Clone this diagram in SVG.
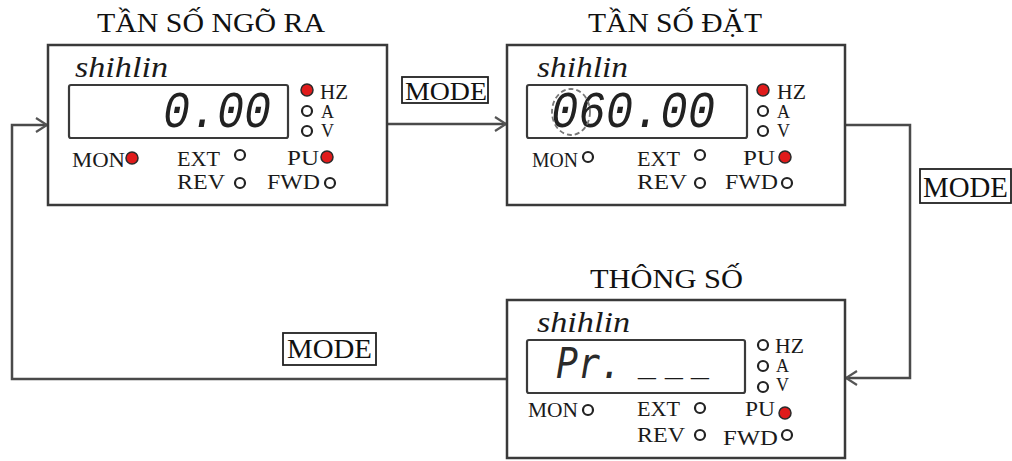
<svg xmlns="http://www.w3.org/2000/svg" width="1012" height="461" viewBox="0 0 1012 461">
<defs>
<style>
.panel{fill:#fff;stroke:#3a3a3a;stroke-width:2.5}
.disp{fill:#fff;stroke:#3a3a3a;stroke-width:2.2}
.title{font-family:"Liberation Serif",serif;font-size:27px;fill:#111}
.brand{font-family:"Liberation Serif",serif;font-style:italic;font-size:29px;fill:#1a1a1a}
.lbl{font-family:"Liberation Serif",serif;font-size:20px;fill:#1a1a1a}
.sm{font-family:"Liberation Serif",serif;font-size:18px;fill:#1a1a1a}
.seg{font-family:"Liberation Mono",monospace;font-style:italic;fill:#222}
.segp{font-family:"DejaVu Sans Mono",monospace;font-style:italic;fill:#2a2a2a}
.dash{font-family:"Liberation Sans",sans-serif;font-weight:bold;font-style:normal;font-size:32px;fill:#1a1a1a}
.on{fill:#e01b1b;stroke:#2a2a2a;stroke-width:1.5}
.off{fill:#fff;stroke:#222;stroke-width:2.2}
.wire{fill:none;stroke:#4a4a4a;stroke-width:2.5}
.mbox{fill:#fff;stroke:#222;stroke-width:1.8}
.mode{font-family:"Liberation Serif",serif;fill:#111}
</style>
<marker id="arr" markerUnits="userSpaceOnUse" markerWidth="14" markerHeight="18" refX="12" refY="8" orient="auto">
<path d="M1,1 L12,8 L1,15" fill="none" stroke="#555" stroke-width="2.2"/>
</marker>
</defs>
<rect width="1012" height="461" fill="#fff"/>

<g id="connectors">
<line class="wire" x1="387" y1="124" x2="506" y2="124" marker-end="url(#arr)"/>
<polyline class="wire" points="845,125 910,125 910,378 846,378" marker-end="url(#arr)"/>
<polyline class="wire" points="507,379 12,379 12,125 47,125" marker-end="url(#arr)"/>
<g id="mode1"><rect class="mbox" x="402" y="77" width="86" height="26"/><text class="mode" x="405" y="100" font-size="26" textLength="82" lengthAdjust="spacingAndGlyphs">MODE</text></g>
<g id="mode2"><rect class="mbox" x="920" y="169" width="91" height="34"/><text class="mode" x="923" y="197" font-size="29" textLength="85" lengthAdjust="spacingAndGlyphs">MODE</text></g>
<g id="mode3"><rect class="mbox" x="283" y="333" width="93" height="32"/><text class="mode" x="287" y="358" font-size="28" textLength="85" lengthAdjust="spacingAndGlyphs">MODE</text></g>
</g>

<g id="panel-output">
<text class="title" x="97" y="32" textLength="228" lengthAdjust="spacingAndGlyphs">TẦN SỐ NGÕ RA</text>
<rect class="panel" x="48" y="45" width="339" height="160"/>
<text class="brand" x="75" y="77" textLength="93" lengthAdjust="spacingAndGlyphs">shihlin</text>
<rect class="disp" x="69" y="85" width="219" height="53" rx="2"/>
<text class="seg" x="163" y="127" font-size="52" textLength="108" lengthAdjust="spacingAndGlyphs">0.00</text>
<circle class="on" cx="307" cy="90" r="6"/><text class="lbl" x="320" y="99" font-size="19" textLength="28" lengthAdjust="spacingAndGlyphs">HZ</text>
<circle class="off" cx="307" cy="111" r="5"/><text class="sm" x="321" y="118">A</text>
<circle class="off" cx="307" cy="131" r="5"/><text class="sm" x="321" y="137">V</text>
<text class="lbl" x="72" y="167" textLength="53" lengthAdjust="spacingAndGlyphs">MON</text><circle class="on" cx="132" cy="158" r="6"/>
<text class="lbl" x="177" y="166" textLength="43" lengthAdjust="spacingAndGlyphs">EXT</text><circle class="off" cx="240" cy="155" r="5"/>
<text class="lbl" x="287" y="165" textLength="32" lengthAdjust="spacingAndGlyphs">PU</text><circle class="on" cx="327" cy="157" r="6"/>
<text class="lbl" x="177" y="189" textLength="48" lengthAdjust="spacingAndGlyphs">REV</text><circle class="off" cx="240" cy="183" r="5"/>
<text class="lbl" x="267" y="189" textLength="53" lengthAdjust="spacingAndGlyphs">FWD</text><circle class="off" cx="330" cy="183" r="5"/>
</g>

<g id="panel-setfreq">
<text class="title" x="588" y="32" textLength="174" lengthAdjust="spacingAndGlyphs">TẦN SỐ ĐẶT</text>
<rect class="panel" x="507" y="45" width="338" height="160"/>
<text class="brand" x="537" y="77" textLength="91" lengthAdjust="spacingAndGlyphs">shihlin</text>
<rect class="disp" x="527" y="85" width="220" height="53" rx="2"/>
<text class="seg" x="551" y="127" font-size="52" textLength="164" lengthAdjust="spacingAndGlyphs">060.00</text>
<ellipse cx="571" cy="112" rx="19" ry="23" fill="none" stroke="#777" stroke-width="1.8" stroke-dasharray="5,3"/>
<circle class="on" cx="763" cy="90" r="6"/><text class="lbl" x="777" y="99" font-size="19" textLength="29" lengthAdjust="spacingAndGlyphs">HZ</text>
<circle class="off" cx="763" cy="111" r="5"/><text class="sm" x="777" y="118">A</text>
<circle class="off" cx="763" cy="131" r="5"/><text class="sm" x="777" y="137">V</text>
<text class="lbl" x="532" y="167" textLength="46" lengthAdjust="spacingAndGlyphs">MON</text><circle class="off" cx="588" cy="157" r="5"/>
<text class="lbl" x="637" y="166" textLength="43" lengthAdjust="spacingAndGlyphs">EXT</text><circle class="off" cx="700" cy="155" r="5"/>
<text class="lbl" x="743" y="165" textLength="32" lengthAdjust="spacingAndGlyphs">PU</text><circle class="on" cx="785" cy="157" r="6"/>
<text class="lbl" x="637" y="189" textLength="50" lengthAdjust="spacingAndGlyphs">REV</text><circle class="off" cx="700" cy="183" r="5"/>
<text class="lbl" x="725" y="189" textLength="53" lengthAdjust="spacingAndGlyphs">FWD</text><circle class="off" cx="787" cy="183" r="5"/>
</g>

<g id="panel-params">
<text class="title" x="590" y="288" textLength="153" lengthAdjust="spacingAndGlyphs">THÔNG SỐ</text>
<rect class="panel" x="507" y="300" width="338" height="158"/>
<text class="brand" x="537" y="332" textLength="93" lengthAdjust="spacingAndGlyphs">shihlin</text>
<rect class="disp" x="527" y="340" width="218" height="53" rx="2"/>
<text class="segp" x="556" y="378" font-size="42"><tspan textLength="66" lengthAdjust="spacingAndGlyphs">Pr.</tspan><tspan class="dash" x="638" y="375">_</tspan><tspan class="dash" x="665" y="375">_</tspan><tspan class="dash" x="691" y="375">_</tspan></text>
<circle class="off" cx="763" cy="345" r="5"/><text class="lbl" x="775" y="353" font-size="19" textLength="29" lengthAdjust="spacingAndGlyphs">HZ</text>
<circle class="off" cx="763" cy="366" r="5"/><text class="sm" x="776" y="372" font-size="17">A</text>
<circle class="off" cx="763" cy="387" r="5"/><text class="sm" x="776" y="391" font-size="17">V</text>
<text class="lbl" x="528" y="417" textLength="50" lengthAdjust="spacingAndGlyphs">MON</text><circle class="off" cx="588" cy="410" r="5"/>
<text class="lbl" x="637" y="416" textLength="43" lengthAdjust="spacingAndGlyphs">EXT</text><circle class="off" cx="700" cy="408" r="5"/>
<text class="lbl" x="745" y="416" textLength="30" lengthAdjust="spacingAndGlyphs">PU</text><circle class="on" cx="785" cy="413" r="6"/>
<text class="lbl" x="637" y="442" textLength="48" lengthAdjust="spacingAndGlyphs">REV</text><circle class="off" cx="700" cy="435" r="5"/>
<text class="lbl" x="723" y="445" textLength="55" lengthAdjust="spacingAndGlyphs">FWD</text><circle class="off" cx="787" cy="435" r="5"/>
</g>
</svg>
